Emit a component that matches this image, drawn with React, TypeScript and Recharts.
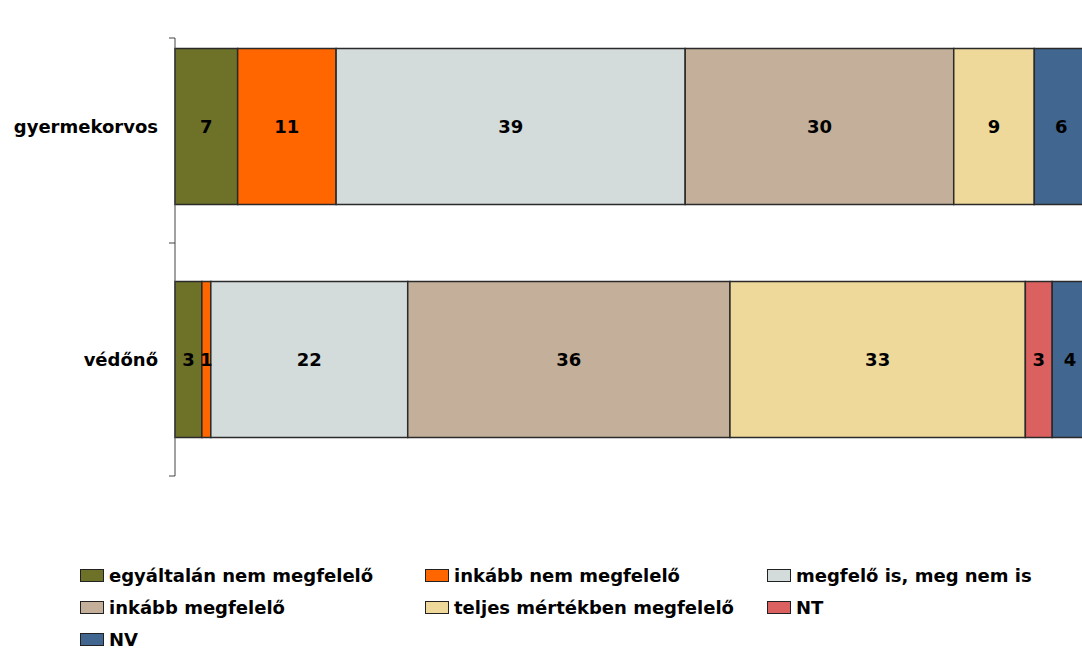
import React from 'react'
import { BarChart, Bar, XAxis, YAxis, LabelList, Legend } from 'recharts'

const CATEGORIES = ['gyermekorvos', 'védőnő']

const SERIES_NAMES = [
  'egyáltalán nem megfelelő',
  'inkább nem megfelelő',
  'megfelő is, meg nem is',
  'inkább megfelelő',
  'teljes mértékben megfelelő',
  'NT',
  'NV',
]

// values per series, [gyermekorvos, védőnő]
const egyaltalanNem = [7, 3]
const inkabbNem = [11, 1]
const semleges = [39, 22]
const inkabbIgen = [30, 36]
const teljesen = [9, 33]
const nt = [0, 3]
const nv = [6, 4]

const SERIES_VALUES = [egyaltalanNem, inkabbNem, semleges, inkabbIgen, teljesen, nt, nv]

const COLORS = [
  '#6E7229', // olive
  '#FF6600', // orange
  '#D3DCDB', // light grey
  '#C4B09A', // tan
  '#EED99B', // pale yellow
  '#DB6060', // red
  '#41668F', // blue
]

const FONT = '"DejaVu Sans", Verdana, sans-serif'

const data = CATEGORIES.map((name, i) => {
  const row: { [key: string]: any } = { name }
  SERIES_NAMES.forEach((s, j) => {
    row[s] = SERIES_VALUES[j][i]
  })
  return row
})

const BAND = 233

// category label plus the axis segment and tick marks at the band edges
const CategoryTick = ({ x, y, payload, index }: any) => {
  const top = index === 0 ? y - BAND / 2 + 28 : y - BAND / 2
  const bottom = y + BAND / 2
  return (
    <g>
      <text
        x={x - 9}
        y={y}
        textAnchor="end"
        dominantBaseline="central"
        fontFamily={FONT}
        fontWeight="bold"
        fontSize={18}
        fill="#000"
      >
        {payload.value}
      </text>
      <line x1={x + 8} x2={x + 8} y1={top} y2={bottom} stroke="#444" />
      {index === 0 && <line x1={x + 2} x2={x + 8} y1={top} y2={top} stroke="#444" />}
      <line x1={x + 2} x2={x + 8} y1={bottom} y2={bottom} stroke="#444" />
    </g>
  )
}

const LegendContent = () => (
  <div
    style={{
      display: 'grid',
      gridTemplateColumns: '345px 342px 320px',
      gridAutoRows: '22px',
      rowGap: 10,
      paddingLeft: 72,
      fontFamily: FONT,
      fontWeight: 'bold',
      fontSize: 18,
      color: '#000',
    }}
  >
    {SERIES_NAMES.map((s, i) => (
      <div key={s} style={{ display: 'flex', alignItems: 'center', height: 22, whiteSpace: 'nowrap' }}>
        <span
          style={{
            display: 'inline-block',
            width: 22,
            height: 11,
            background: COLORS[i],
            border: '1px solid #222',
            marginRight: 5,
          }}
        />
        {s}
      </div>
    ))}
  </div>
)

export default function App() {
  // the reference is cropped at the right edge, so the chart runs a bit past the page
  return (
    <div style={{ width: 1082, height: 650, overflow: 'hidden', position: 'relative' }}>
      <style>{'body { margin: 0; overflow: hidden; }'}</style>
      <div style={{ position: 'absolute', left: 8, top: 8 }}>
        <BarChart
          width={1080}
          height={642}
          data={data}
          layout="vertical"
          margin={{ top: 2, right: 0, bottom: 88, left: 0 }}
          barCategoryGap="16.5%"
        >
          <XAxis type="number" domain={[0, 102]} hide />
          <YAxis
            type="category"
            dataKey="name"
            width={167}
            tickLine={false}
            axisLine={false}
            tick={<CategoryTick />}
          />
          <Legend
            content={<LegendContent />}
            wrapperStyle={{ left: 0, top: 556, width: 1074 }}
          />
          {SERIES_NAMES.map((s, i) => (
            <Bar
              key={s}
              dataKey={s}
              stackId="a"
              fill={COLORS[i]}
              stroke="#2a2a2a"
              strokeWidth={1.5}
              isAnimationActive={false}
            >
              <LabelList
                dataKey={s}
                position="center"
                formatter={(v: any) => (v ? v : '')}
                style={{ fontFamily: FONT, fontWeight: 'bold', fontSize: 18, fill: '#000' }}
              />
            </Bar>
          ))}
        </BarChart>
      </div>
    </div>
  )
}
